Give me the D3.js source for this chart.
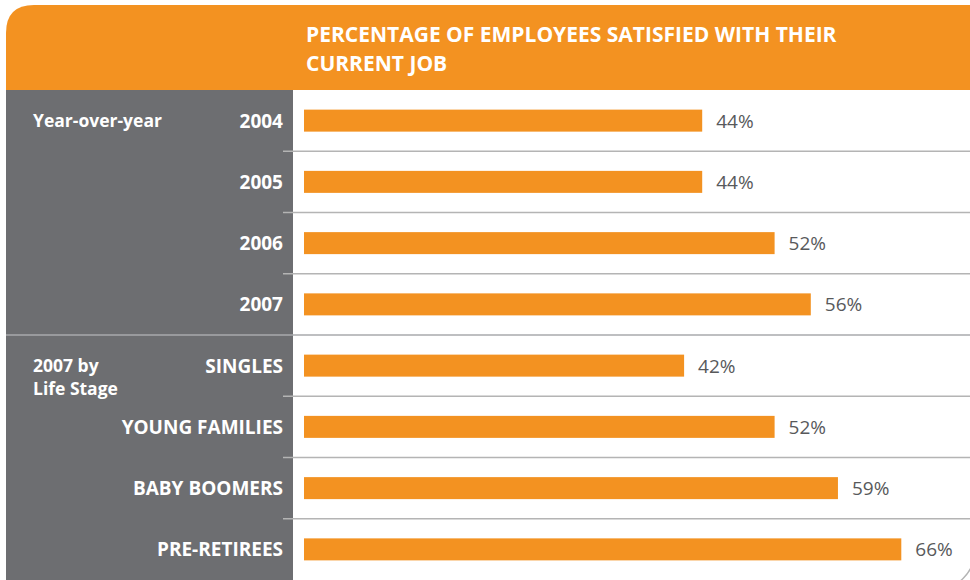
<!DOCTYPE html>
<html>
<head>
<meta charset="utf-8">
<script src="https://cdn.jsdelivr.net/npm/d3@7/dist/d3.min.js"></script>
<style>
  html, body { margin: 0; padding: 0; background: #ffffff; }
  svg { display: block; }
</style>
</head>
<body>
<svg id="chart" width="970" height="580"></svg>
<script>
// Employee job satisfaction, by year and by life stage (2007)
const titleLines = ["PERCENTAGE OF EMPLOYEES SATISFIED WITH THEIR", "CURRENT JOB"];
const categories = ["2004", "2005", "2006", "2007", "SINGLES", "YOUNG FAMILIES", "BABY BOOMERS", "PRE-RETIREES"];
const values = [44, 44, 52, 56, 42, 52, 59, 66];
const groupNames = [["Year-over-year"], ["2007 by", "Life Stage"]];
const groupFirstRow = ["2004", "SINGLES"];

const W = 970, H = 580;
const orange = "#F39221";
const panelGray = "#6D6E71";
const rule = "#B4B4B4";
const font = "'Open Sans', 'DejaVu Sans', sans-serif";

const svg = d3.select("#chart");

// Layout
const frameLeft = 6, frameTop = 5, headerBottom = 90, panelRight = 293;
const barStart = 304;

const x = d3.scaleLinear().domain([0, 100]).range([barStart, barStart + 905]);
const y = d3.scaleBand().domain(categories).range([headerBottom, H]).padding(0);
const barH = 22;

// Header band with a rounded top-left corner
const r = 28;
svg.append("path")
  .attr("d", `M${frameLeft},${headerBottom} L${frameLeft},${frameTop + r} Q${frameLeft},${frameTop} ${frameLeft + r},${frameTop} L${W},${frameTop} L${W},${headerBottom} Z`)
  .attr("fill", orange);

svg.append("g")
  .selectAll("text")
  .data(titleLines)
  .join("text")
  .attr("x", 306)
  .attr("y", (d, i) => 42 + i * 28.5)
  .attr("fill", "#ffffff")
  .attr("font-family", font)
  .attr("font-weight", 700)
  .attr("font-size", 21)
  .text(d => d);

// Gray label panel
svg.append("rect")
  .attr("x", frameLeft).attr("y", headerBottom)
  .attr("width", panelRight - frameLeft).attr("height", H - headerBottom)
  .attr("fill", panelGray);

// Row separators
const boundaries = categories.slice(1);
svg.append("g")
  .selectAll("line")
  .data(boundaries)
  .join("line")
  .attr("x1", d => groupFirstRow.includes(d) ? frameLeft : 283)
  .attr("x2", W)
  .attr("y1", d => y(d))
  .attr("y2", d => y(d))
  .attr("stroke", d => groupFirstRow.includes(d) ? "#A9AAAC" : rule)
  .attr("stroke-width", 1.6);

// Bars
svg.append("g")
  .selectAll("rect")
  .data(categories)
  .join("rect")
  .attr("x", x(0))
  .attr("y", d => y(d) + y.bandwidth() / 2 - barH / 2)
  .attr("width", (d, i) => x(values[i]) - x(0))
  .attr("height", barH)
  .attr("fill", orange);

// Value labels
svg.append("g")
  .selectAll("text")
  .data(categories)
  .join("text")
  .attr("x", (d, i) => x(values[i]) + 14)
  .attr("y", d => y(d) + y.bandwidth() / 2 + 7)
  .attr("fill", "#58595B")
  .attr("font-family", font)
  .attr("font-size", 19)
  .text((d, i) => values[i] + "%");

// Category labels
svg.append("g")
  .selectAll("text")
  .data(categories)
  .join("text")
  .attr("x", 283)
  .attr("y", d => y(d) + y.bandwidth() / 2 + 7)
  .attr("text-anchor", "end")
  .attr("fill", "#ffffff")
  .attr("font-family", font)
  .attr("font-weight", 700)
  .attr("font-size", 19)
  .text(d => d);

// Group labels
const groups = svg.append("g")
  .selectAll("text")
  .data(groupNames)
  .join("text")
  .attr("x", 33)
  .attr("y", (d, i) => y(groupFirstRow[i]) + y.bandwidth() / 2 + 6.5)
  .attr("fill", "#ffffff")
  .attr("font-family", font)
  .attr("font-weight", 700)
  .attr("font-size", 17.5);
groups.selectAll("tspan")
  .data(d => d)
  .join("tspan")
  .attr("x", 33)
  .attr("dy", (d, i) => i === 0 ? 0 : 23)
  .text(d => d);

// Rounded frame corner at the lower right
svg.append("path")
  .attr("d", "M975,550 A40,40 0 0 1 935,590")
  .attr("fill", "none")
  .attr("stroke", "#B4B4B4")
  .attr("stroke-width", 1.5);
</script>
</body>
</html>
